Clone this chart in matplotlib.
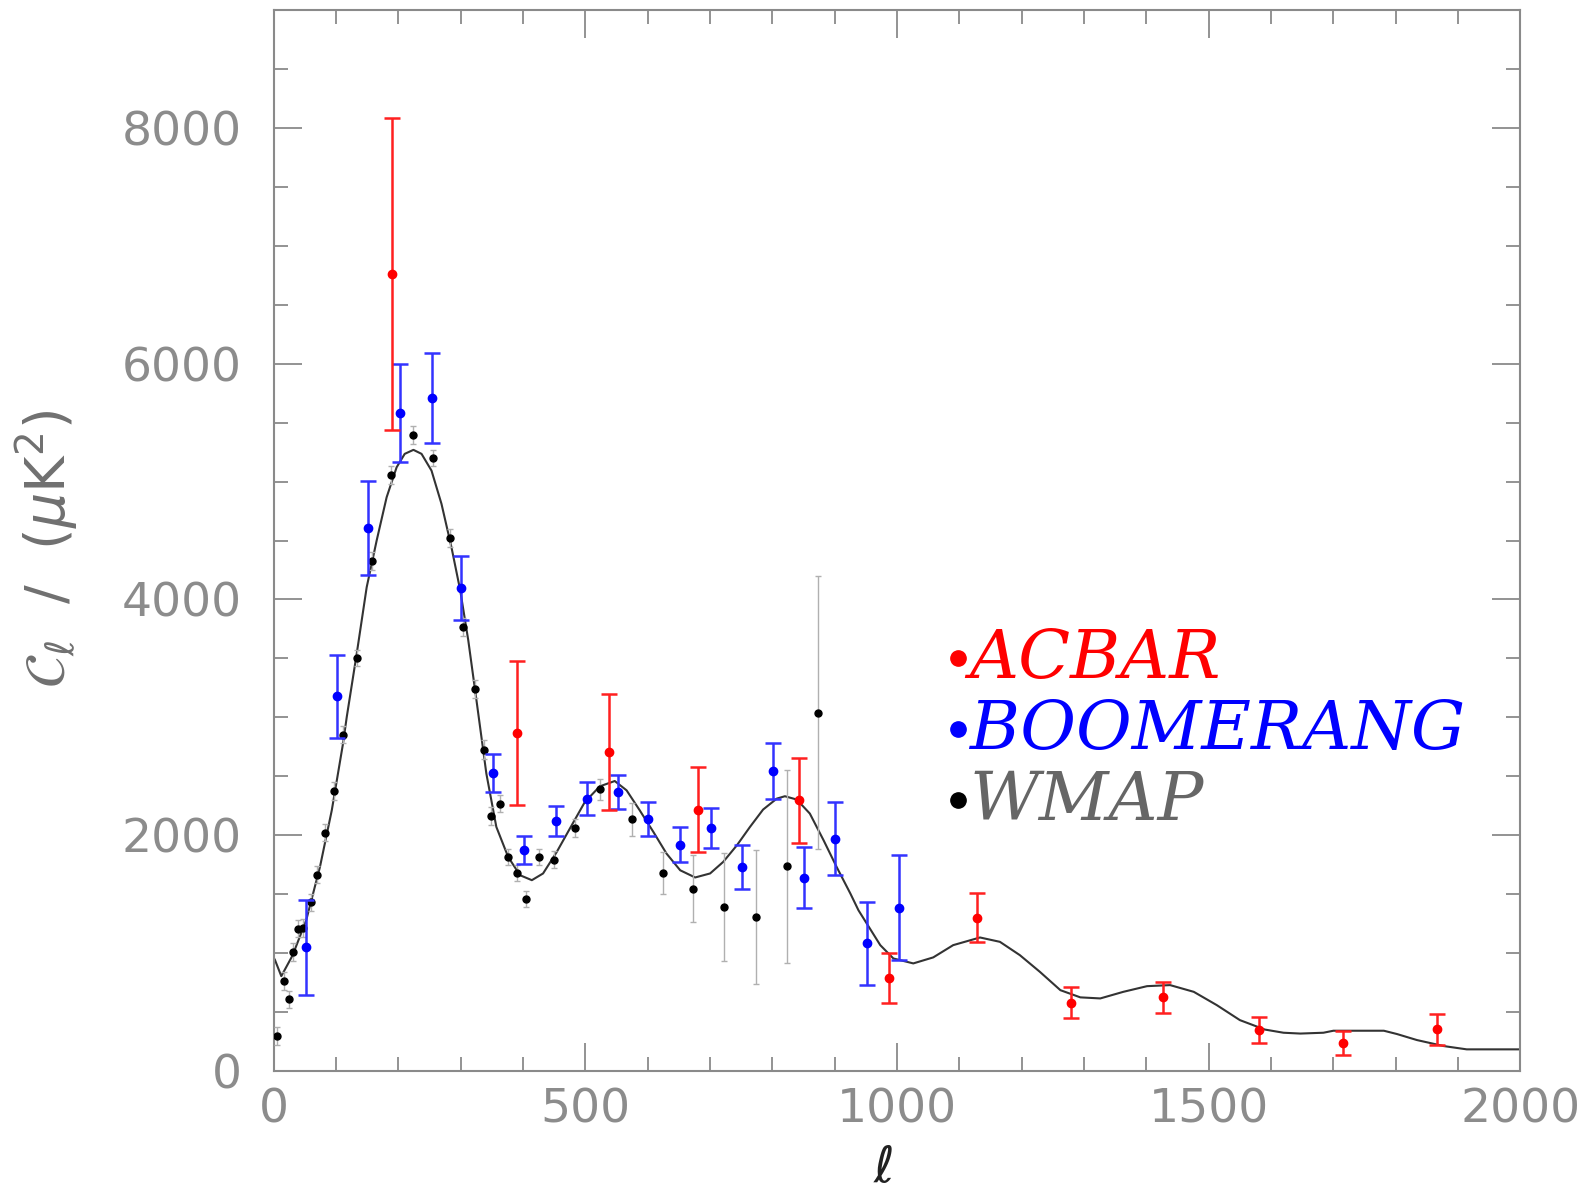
import matplotlib
matplotlib.use("Agg")
import matplotlib.pyplot as plt
from matplotlib.ticker import MultipleLocator

# ---------------- data ----------------
acbar_l = [190, 390, 537, 680, 843, 987, 1129, 1279, 1427, 1580, 1716, 1866]
acbar_c = [6760, 2870, 2706, 2218, 2297, 791, 1300, 579, 624, 347, 240, 353]
acbar_e = [1320, 610, 495, 360, 360, 210, 207, 130, 135, 112, 100, 130]

boom_l = [52, 102, 151, 203, 253, 301, 352, 402, 452, 503, 552, 601, 652,
          702, 751, 801, 851, 901, 952, 1003]
boom_c = [1048, 3178, 4608, 5579, 5708, 4099, 2528, 1873, 2119, 2311, 2367,
          2136, 1921, 2062, 1731, 2545, 1641, 1972, 1082, 1387]
boom_e = [400, 355, 400, 415, 383, 270, 165, 117, 126, 141, 145, 145, 148,
          170, 188, 240, 257, 310, 353, 447]

wmap_l = [5, 16, 25, 31, 39, 47, 59, 70, 82, 96, 111, 133, 157, 188, 223,
          256, 282, 304, 323, 337, 349, 363, 375, 390, 404, 425, 450, 483,
          523, 574, 624, 673, 723, 774, 823, 873]
wmap_c = [297, 766, 607, 1011, 1209, 1215, 1430, 1667, 2023, 2373, 2854,
          3503, 4325, 5054, 5393, 5201, 4523, 3765, 3240, 2726, 2161, 2269,
          1816, 1676, 1460, 1816, 1794, 2062, 2390, 2136, 1681, 1548, 1393,
          1308, 1737, 3040]
wmap_e = [75, 75, 75, 75, 75, 75, 75, 75, 75, 75, 75, 70, 75, 75, 77,
          70, 75, 75, 80, 82, 77, 75, 70, 68, 68, 70, 70, 78,
          90, 140, 180, 285, 460, 570, 820, 1160]

model_l = [0, 2, 12, 30, 52, 74, 93, 111, 117, 133, 149, 165, 181, 197, 210,
           224, 237, 253, 269, 285, 299, 312, 325, 341, 357, 376, 395, 414,
           432, 454, 475, 499, 523, 547, 566, 587, 609, 630, 652, 676, 700,
           721, 743, 764, 785, 807, 820, 839, 860, 882, 903, 925, 938, 973,
           994, 1026, 1058, 1090, 1133, 1165, 1197, 1229, 1262, 1294, 1326,
           1363, 1401, 1438, 1476, 1513, 1550, 1590, 1620, 1647, 1684, 1700,
           1781, 1802, 1834, 1877, 1914, 2000]
model_c = [960, 940, 805, 980, 1280, 1731, 2212, 2777, 3003, 3540, 4104, 4500,
           4867, 5121, 5235, 5269, 5235, 5093, 4811, 4443, 4079, 3653, 3150,
           2523, 2071, 1816, 1661, 1619, 1676, 1859, 2057, 2282, 2415, 2460,
           2381, 2212, 2028, 1845, 1703, 1642, 1676, 1774, 1915, 2071, 2218,
           2311, 2331, 2303, 2184, 1958, 1731, 1506, 1364, 1068, 955, 913,
           964, 1068, 1133, 1096, 983, 842, 686, 625, 616, 672, 720, 729, 672,
           559, 432, 352, 325, 318, 325, 342, 342, 314, 263, 212, 184, 184]

legend_names = ["ACBAR", "BOOMERANG", "WMAP"]

# ---------------- figure ----------------
fig = plt.figure(figsize=(15.92, 11.89), dpi=100)
ax = fig.add_axes([0.172, 0.0992, 0.783, 0.8924])

grey = "#8a8a8a"

ax.plot(model_l, model_c, color="#333333", lw=1.5, zorder=2,
        solid_joinstyle="round")

ax.errorbar(wmap_l, wmap_c, yerr=wmap_e, fmt="o", color="black", ms=5,
            ecolor="#b0b0b0", elinewidth=1.0, capsize=2.5, capthick=1.0,
            zorder=3)
ax.errorbar(boom_l, boom_c, yerr=boom_e, fmt="o", color="#0000ff", ms=6,
            ecolor="#3333ff", elinewidth=1.8, capsize=6, capthick=1.8,
            zorder=4)
ax.errorbar(acbar_l, acbar_c, yerr=acbar_e, fmt="o", color="#ff0000", ms=6,
            ecolor="#ff2020", elinewidth=1.8, capsize=6, capthick=1.8,
            zorder=5)

ax.set_xlim(0, 2000)
ax.set_ylim(0, 9000)
ax.xaxis.set_major_locator(MultipleLocator(500))
ax.xaxis.set_minor_locator(MultipleLocator(100))
ax.yaxis.set_major_locator(MultipleLocator(2000))
ax.yaxis.set_minor_locator(MultipleLocator(500))
ax.tick_params(which="both", direction="in", top=True, right=True,
               color=grey, width=1.3)
ax.tick_params(which="major", length=20)
ax.tick_params(which="minor", length=10)
ax.tick_params(axis="x", which="major", labelsize=34, labelcolor="#8c8c8c",
               pad=12)
ax.tick_params(axis="y", which="major", labelsize=34, labelcolor="#8c8c8c",
               pad=23)
for s in ax.spines.values():
    s.set_color(grey)
    s.set_linewidth(1.5)

fig.text(0.030, 0.538, r"$\mathcal{C}_\ell$  /  ($\mu$K$^2$)", fontsize=40,
         color="#707070", rotation=90, ha="center", va="center")
fig.text(0.555, 0.018, r"$\ell$", fontsize=36, color="#222222",
         ha="center", va="center", fontweight="bold")

# legend texts
leg_colors = ["#ff0000", "#0000ff", "#666666"]
dot_colors = ["#ff0000", "#0000ff", "#000000"]
leg_y = [3330, 2729, 2127]
for name, col, dcol, yy in zip(legend_names, leg_colors, dot_colors, leg_y):
    ax.plot([1098], [yy + 170], "o", color=dcol, ms=11, zorder=6)
    ax.text(1116, yy, name, color=col, fontsize=49, family="DejaVu Serif",
            style="italic", va="baseline", ha="left", zorder=6)

fig.savefig("out.png", dpi=100)
